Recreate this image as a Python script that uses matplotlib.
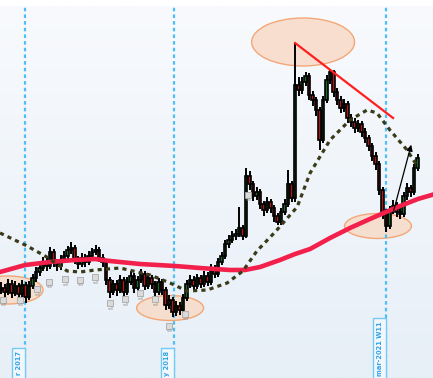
import numpy as np
import matplotlib
matplotlib.use("Agg")
import matplotlib.pyplot as plt
from matplotlib.patches import Ellipse, Rectangle
from matplotlib.colors import LinearSegmentedColormap
from matplotlib.transforms import blended_transform_factory

# weekly candles (price units)
closes = [11.2, 10.8, 11.6, 10.7, 11.4, 10.6, 11.5, 10.3, 11.4, 12.2,
          12.8, 13.2, 13.8, 13.4, 14.8, 13.8, 13.4, 14.0, 14.4, 15.0,
          15.2, 14.0, 13.6, 14.2, 13.8, 14.4, 14.8, 15.0, 14.2, 13.8,
          12.0, 10.8, 11.6, 11.0, 12.0, 10.8, 11.8, 12.4, 11.2, 12.0,
          12.6, 11.4, 12.2, 11.6, 10.8, 11.8, 11.0, 9.5, 10.0, 8.8,
          9.4, 9.0, 10.2, 11.6, 12.0, 11.4, 12.2, 11.6, 12.4, 11.8,
          13.2, 12.6, 13.8, 14.4, 15.6, 16.0, 16.4, 16.6, 17.2, 16.4,
          22.4, 21.6, 20.4, 20.8, 19.6, 19.0, 19.8, 19.2, 18.4, 17.8,
          18.8, 19.6, 21.6, 20.2, 31.5, 31.0, 31.8, 32.4, 30.5, 30.0,
          29.0, 26.0, 30.0, 32.0, 32.8, 30.8, 30.0, 29.2, 29.6, 28.2,
          27.8, 27.2, 27.6, 26.8, 26.2, 25.4, 24.4, 23.6, 21.0, 18.8,
          17.4, 19.0, 19.4, 18.8, 18.6, 20.4, 21.2, 20.8, 23.2, 24.2]
highs = [11.8, 11.6, 12.1, 12.0, 11.9, 11.7, 12.0, 11.8, 11.9, 12.6,
         13.3, 13.8, 14.3, 14.2, 15.3, 15.1, 14.1, 14.5, 14.9, 15.4,
         15.8, 15.5, 14.4, 14.7, 14.6, 14.9, 15.2, 15.5, 15.3, 14.6,
         14.1, 12.3, 12.0, 12.0, 12.5, 12.3, 12.3, 12.9, 12.7, 12.4,
         13.1, 12.9, 12.7, 12.5, 11.9, 12.2, 12.1, 11.3, 10.5, 10.3,
         9.9, 9.8, 10.6, 12.0, 12.5, 12.4, 12.6, 12.5, 12.9, 12.8,
         13.6, 13.5, 14.2, 14.8, 16.0, 16.5, 16.9, 17.1, 19.3, 17.5,
         23.2, 22.9, 21.9, 21.3, 21.1, 19.9, 20.3, 20.1, 19.5, 18.7,
         19.2, 20.1, 23.0, 21.9, 35.7, 32.3, 32.3, 32.8, 32.7, 30.9,
         30.3, 29.3, 30.4, 32.5, 33.0, 33.0, 31.2, 30.4, 30.1, 29.9,
         28.6, 28.2, 28.0, 27.9, 27.2, 26.5, 25.7, 24.8, 23.9, 21.3,
         19.1, 19.4, 20.0, 19.8, 19.2, 20.8, 21.7, 21.5, 23.6, 24.6]
lows = [10.6, 10.3, 10.5, 10.2, 10.4, 10.0, 10.3, 9.7, 10.0, 11.1,
        11.8, 12.4, 12.9, 12.9, 13.1, 13.3, 12.9, 13.0, 13.7, 14.1,
        14.6, 13.6, 13.1, 13.3, 13.3, 13.5, 14.0, 14.5, 13.8, 13.3,
        11.5, 10.2, 10.5, 10.4, 10.7, 10.3, 10.5, 11.5, 10.7, 10.9,
        11.7, 11.0, 11.1, 11.1, 10.3, 10.5, 10.5, 9.0, 9.1, 8.3,
        8.4, 8.5, 8.7, 9.9, 11.2, 11.0, 11.1, 11.2, 11.3, 11.4,
        11.5, 12.2, 12.3, 13.5, 14.1, 15.2, 15.7, 16.0, 16.3, 16.0,
        16.2, 21.0, 19.9, 20.0, 19.1, 18.4, 18.7, 18.7, 17.8, 17.5,
        17.5, 18.5, 19.3, 19.8, 19.8, 30.4, 30.6, 31.4, 30.0, 29.4,
        28.4, 25.0, 25.7, 29.7, 31.6, 30.3, 29.5, 28.7, 28.8, 27.7,
        27.3, 26.7, 26.8, 26.3, 25.7, 24.9, 23.9, 23.0, 20.5, 18.1,
        16.8, 17.1, 18.6, 18.3, 18.1, 18.3, 20.0, 20.3, 20.5, 22.9]
first_open = 11.0

# moving averages, sampled at candle positions
ma_long_idx = [-0.3, 6.9, 14, 21.1, 26.9, 31.1, 39.7, 49.7, 56.9, 65.4, 69.7,
               74, 79.7, 84, 88.3, 94, 99.7, 105.4, 110, 114, 119.1, 124]
ma_long_val = [12.8, 13.5, 13.8, 14.0, 14.1, 13.9, 13.6, 13.4, 13.2, 13.0, 13.0,
               13.3, 14.0, 14.6, 15.1, 16.2, 17.2, 18.1, 18.8, 19.4, 20.1, 20.6]
ma_mid_idx = [-0.3, 6.9, 12.6, 18.9, 22.6, 26.9, 34, 42.6, 48.3, 53.1, 58.9, 64.6,
              69.1, 73.1, 78.3, 84.6, 88.3, 94, 99.7, 104.6, 107.4, 111.1, 116, 119.1]
ma_mid_val = [16.7, 15.5, 14.4, 12.9, 12.8, 13.0, 13.2, 12.5, 11.7, 10.9, 11.0, 11.7,
              12.9, 14.9, 16.8, 19.3, 22.7, 26.0, 28.0, 29.0, 28.7, 27.0, 25.0, 23.3]

# event markers
event_idx = [0.6, 5.4, 10.3, 13.7, 18.3, 22.6, 26.9, 31.1, 35.4, 39.7, 44.0, 48.0, 52.6, 70.6]
event_val = [10.0, 10.0, 11.1, 11.8, 12.1, 12.0, 12.3, 9.7, 10.1, 10.7, 10.1, 7.4, 8.6, 20.5]

# highlighted zones: (center idx, center price, width, height)
zones = [(2.0, 11.0, 20.0, 2.8), (48.3, 9.2, 19.1, 2.5),
         (86.3, 35.8, 29.4, 4.8), (107.7, 17.4, 19.1, 2.5)]

date_idx = [6.9, 49.4, 110.0]
date_labels = ["r 2017", "y 2018", "mar-2021 W11"]
date_top = [348, 348, 318]  # px from top where the label box starts

trend_idx = [84, 112]
trend_val = [35.7, 28.2]
arrow_from = (112, 18.7)
arrow_to = (117.4, 25.8)

W, H = 433, 378
fig = plt.figure(figsize=(W / 100, H / 100), dpi=100)
fig.patch.set_facecolor("white")
top_px = 6
ax = fig.add_axes([0, 0, 1, (H - top_px) / H])
ymin, ymax = 2.2, 39.4
ax.set_xlim(-0.3, -0.3 + W / 3.5)
ax.set_ylim(ymin, ymax)
ax.axis("off")

# background gradient
grad = np.linspace(0, 1, 256).reshape(-1, 1)
bg = LinearSegmentedColormap.from_list("bg", ["#f8fafd", "#e7eff7"])
ax.imshow(grad, extent=[0, 1, 0, 1], transform=ax.transAxes, aspect="auto",
          cmap=bg, origin="upper", zorder=0)

for cx, cy, w, h in zones:
    ax.add_patch(Ellipse((cx, cy), w, h, facecolor="#f8dccb", edgecolor="#f3a06c",
                         lw=1.0, alpha=0.9, zorder=1))

for xi in date_idx:
    ax.axvline(xi, color="#4cbff5", lw=1.6, dashes=(1.6, 1.4), zorder=2)

x = np.arange(len(closes))
c = np.array(closes)
o = np.concatenate([[first_open], c[:-1]])
ax.vlines(x, lows, highs, color="black", lw=1.4, zorder=3)
cols = np.where(c >= o, "#1d6b2a", "#b01818")
ax.bar(x, np.abs(c - o), bottom=np.minimum(o, c), width=0.72, color=cols,
       edgecolor="black", linewidth=1.2, zorder=4)

ax.scatter(event_idx, event_val, marker="s", s=22, facecolor="#dadada",
           edgecolor="#a8a8a8", linewidth=0.6, zorder=4)
for ex, ev in zip(event_idx, event_val):
    ax.text(ex + 0.3, ev - 0.55, "sell", fontsize=2.6, color="#8a8a8a",
            ha="center", va="center", zorder=4)

ax.plot(ma_long_idx, ma_long_val, color="#f2204b", lw=3.3, zorder=5,
        solid_capstyle="round")
ax.plot(ma_mid_idx, ma_mid_val, color="#3a3a18", lw=2.3, dashes=(1.3, 1.3), zorder=5)

ax.plot(trend_idx, trend_val, color="#ff1f1f", lw=1.6, zorder=6)
ax.annotate("", xy=arrow_to, xytext=arrow_from,
            arrowprops=dict(arrowstyle="-|>", color="black", lw=0.9,
                            mutation_scale=9), zorder=6)

# date label boxes running to the bottom edge
tr = blended_transform_factory(ax.transData, ax.transAxes)
bw = 13 / 3.5
for xi, lab, tp in zip(date_idx, date_labels, date_top):
    ytop = (H - tp) / (H - top_px)
    ax.add_patch(Rectangle((xi - bw, -0.01), bw, ytop + 0.01, transform=tr,
                           facecolor="#f2f7fc", edgecolor="#74ccf6", lw=1.0,
                           zorder=7, clip_on=False))
    ax.text(xi - bw / 2, ytop - 3 / (H - top_px), lab, transform=tr, rotation=90,
            ha="center", va="top", fontsize=4.8, fontweight="bold",
            color="#2ea4ea", zorder=8)

fig.savefig("out.png", dpi=100)
